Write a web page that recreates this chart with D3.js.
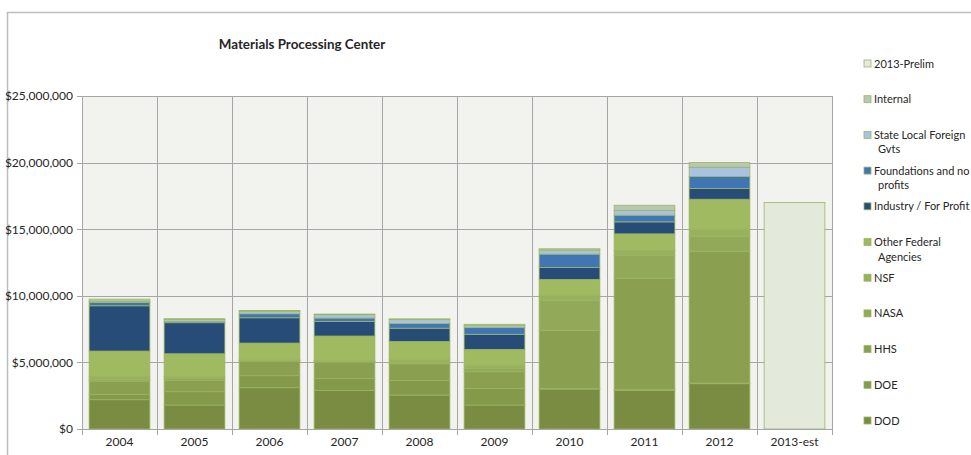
<!DOCTYPE html>
<html>
<head>
<meta charset="utf-8">
<script src="https://cdn.jsdelivr.net/npm/d3@7"></script>
<style>
  body { margin: 0; background: #fff; }
  text { font-family: Lato, "Open Sans", sans-serif; fill: #262626; }
</style>
</head>
<body>
<div id="graph1"></div>
<script>
// categories
const years = ["2004", "2005", "2006", "2007", "2008", "2009", "2010", "2011", "2012", "2013-est"];

// series values, millions of dollars (bottom of stack first)
const dod         = [2.2, 1.8, 3.1, 2.9, 2.55, 1.8, 3.0, 2.9, 3.4, 0];
const doe         = [0.4, 1.0, 0.9, 0.88, 1.1, 1.25, 0.05, 0.05, 0.05, 0];
const hhs         = [1.0, 0.85, 1.1, 1.25, 1.25, 1.25, 4.35, 8.35, 9.9, 0];
const nasa        = [0.1, 0.15, 0.05, 0.05, 0.05, 0.25, 2.25, 1.75, 1.1, 0];
const nsf         = [0.25, 0.15, 0.05, 0.05, 0.25, 0.25, 0.4, 0.35, 0.55, 0];
const otherFed    = [1.9, 1.7, 1.25, 1.85, 1.37, 1.18, 1.18, 1.25, 2.25, 0];
const industry    = [3.4, 2.33, 1.9, 1.1, 1.0, 1.13, 0.9, 0.9, 0.8, 0];
const foundations = [0.25, 0.1, 0.3, 0.25, 0.35, 0.5, 1.0, 0.5, 0.9, 0];
const stateLocal  = [0.1, 0.15, 0.2, 0.25, 0.3, 0.15, 0.3, 0.35, 0.7, 0];
const internal    = [0.15, 0.05, 0.05, 0.05, 0.05, 0.1, 0.1, 0.4, 0.35, 0];
const prelim      = [0, 0, 0, 0, 0, 0, 0, 0, 0, 17.0];

// y tick values
const yTicks = [0, 5, 10, 15, 20, 25];

const series = [
    {key: "DOD", values: dod, color: "#798c41"},
    {key: "DOE", values: doe, color: "#84994a"},
    {key: "HHS", values: hhs, color: "#8aa050"},
    {key: "NASA", values: nasa, color: "#91a958"},
    {key: "NSF", values: nsf, color: "#98b15c"},
    {key: "Other Federal Agencies", values: otherFed, color: "#9fba61"},
    {key: "Industry / For Profit", values: industry, color: "#284c78"},
    {key: "Foundations and no profits", values: foundations, color: "#4176b4"},
    {key: "State Local Foreign Gvts", values: stateLocal, color: "#a9c3df"},
    {key: "Internal", values: internal, color: "#b9c7b3"},
    {key: "2013-Prelim", values: prelim, color: "#e3eadb"}
];

// legend labels (wrapped like the original)
const legendLines = {
    "2013-Prelim": ["2013-Prelim"],
    "Internal": ["Internal"],
    "State Local Foreign Gvts": ["State Local Foreign", "Gvts"],
    "Foundations and no profits": ["Foundations and no", "profits"],
    "Industry / For Profit": ["Industry / For Profit"],
    "Other Federal Agencies": ["Other Federal", "Agencies"],
    "NSF": ["NSF"], "NASA": ["NASA"], "HHS": ["HHS"], "DOE": ["DOE"], "DOD": ["DOD"]
};

const width = 971, height = 455;
const plot = {left: 82, right: 832, top: 96, bottom: 429};

// build table for d3.stack
const table = years.map((y, i) => {
    let row = {year: y};
    series.forEach(s => { row[s.key] = s.values[i]; });
    return row;
});

let svg = d3.select("#graph1")
    .append("svg")
    .attr("width", width)
    .attr("height", height);

// chart frame
svg.append("rect")
    .attr("x", 7.5).attr("y", 12.5)
    .attr("width", 1100).attr("height", 600)
    .attr("fill", "#fff")
    .attr("stroke", "#bdbdbd")
    .attr("stroke-width", 1.5);

let x = d3.scaleBand()
    .domain(years)
    .range([plot.left, plot.right])
    .paddingInner(0.19)
    .paddingOuter(0.095);

let y = d3.scaleLinear()
    .domain([0, 25])
    .range([plot.bottom, plot.top]);

// plot area background
svg.append("rect")
    .attr("x", plot.left).attr("y", plot.top)
    .attr("width", plot.right - plot.left)
    .attr("height", plot.bottom - plot.top)
    .attr("fill", "#f2f3ee");

// horizontal grid
svg.append("g")
    .selectAll("line")
    .data(yTicks)
    .join("line")
    .attr("x1", plot.left - 5).attr("x2", plot.right)
    .attr("y1", d => Math.round(y(d)) + 0.5)
    .attr("y2", d => Math.round(y(d)) + 0.5)
    .attr("stroke", "#a6a6a6");

// vertical grid at category boundaries
const bounds = years.map(d => x(d) - x.step() * 0.095).concat([plot.right]);
svg.append("g")
    .selectAll("line")
    .data(bounds)
    .join("line")
    .attr("x1", d => Math.round(d) + 0.5).attr("x2", d => Math.round(d) + 0.5)
    .attr("y1", plot.top).attr("y2", plot.bottom + 6)
    .attr("stroke", "#a6a6a6");

// y axis labels
let yAxis = svg.append("g")
    .attr("transform", `translate(${plot.left - 9}, 0)`)
    .call(d3.axisLeft(y).tickValues(yTicks)
        .tickFormat(d => d3.format("$,")(d * 1e6))
        .tickSize(0).tickPadding(0));
yAxis.select(".domain").remove();
yAxis.selectAll("text").style("font-size", "12px").style("font-family", "Lato, sans-serif").attr("fill", "#262626");

// x axis labels
let xAxis = svg.append("g")
    .attr("transform", `translate(0, ${plot.bottom + 6})`)
    .call(d3.axisBottom(x).tickSize(0).tickPadding(2));
xAxis.select(".domain").remove();
xAxis.selectAll("text").style("font-size", "12px").style("font-family", "Lato, sans-serif").attr("fill", "#262626");

// stacked bars
const stacked = d3.stack().keys(series.map(s => s.key))(table);
const color = d3.scaleOrdinal().domain(series.map(s => s.key)).range(series.map(s => s.color));

let barG = svg.append("g");
barG.selectAll("g")
    .data(stacked)
    .join("g")
    .attr("fill", d => color(d.key))
    .selectAll("rect")
    .data(d => d.filter(p => p[1] - p[0] > 0))
    .join("rect")
    .attr("x", d => x(d.data.year))
    .attr("y", d => y(d[1]))
    .attr("width", x.bandwidth())
    .attr("height", d => y(d[0]) - y(d[1]))
    .attr("stroke", "#9bb562")
    .attr("stroke-width", 0.8);

// axis line on top
svg.append("line")
    .attr("x1", plot.left).attr("x2", plot.right)
    .attr("y1", plot.bottom + 0.5).attr("y2", plot.bottom + 0.5)
    .attr("stroke", "#a6a6a6");

// title
svg.append("text")
    .attr("x", 302).attr("y", 49)
    .style("text-anchor", "middle")
    .style("font-size", "13.4px")
    .style("font-weight", "bold")
    .text("Materials Processing Center");

// legend, top entry is the top of the stack
const legendItems = series.slice().reverse();
let legend = svg.append("g");
let item = legend.selectAll("g")
    .data(legendItems)
    .join("g")
    .attr("transform", (d, i) => `translate(864, ${64 + i * 35.7})`);

item.append("rect")
    .attr("x", 0).attr("y", -4)
    .attr("width", 7).attr("height", 7)
    .attr("fill", d => d.color)
    .attr("stroke", "#9bb562")
    .attr("stroke-width", 0.8);

item.append("text")
    .attr("x", 10).attr("y", 3.5)
    .style("font-size", "11px")
    .selectAll("tspan")
    .data(d => legendLines[d.key])
    .join("tspan")
    .attr("x", (d, i) => i === 0 ? 10 : 14)
    .attr("dy", (d, i) => i === 0 ? 0 : 14.5)
    .text(d => d);
</script>
</body>
</html>
